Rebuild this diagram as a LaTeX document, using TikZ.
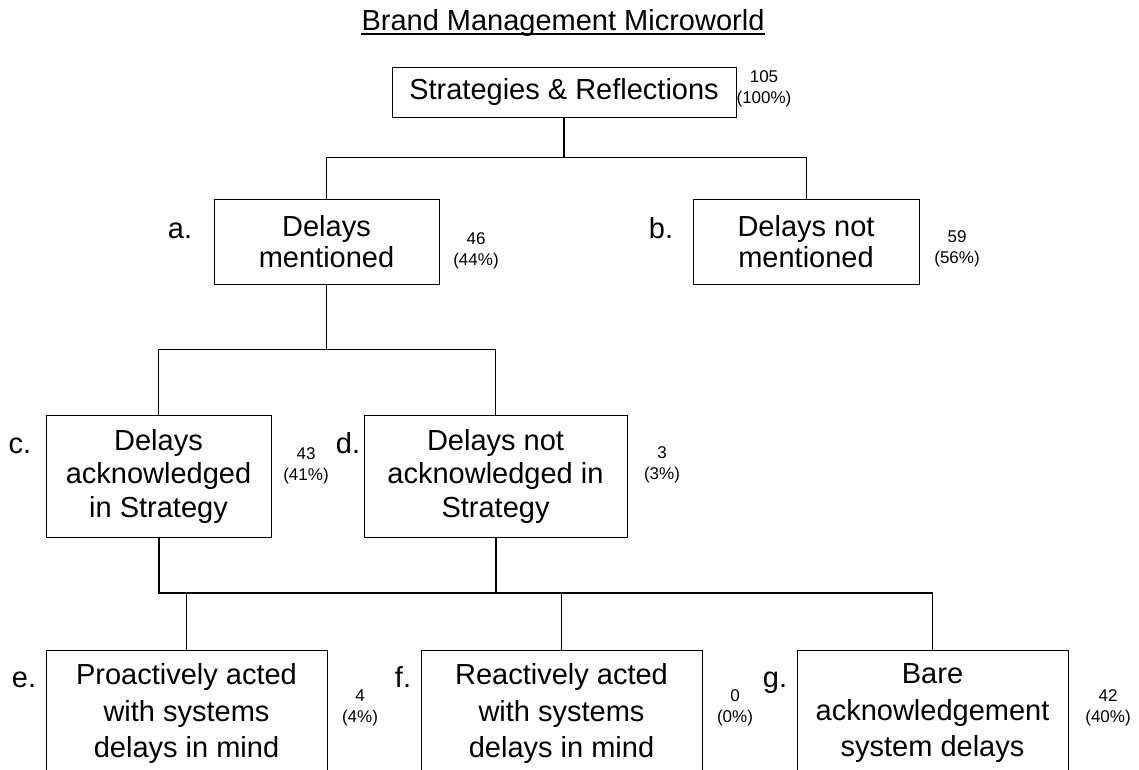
\documentclass[tikz,border=0pt]{standalone}
\usepackage{fontspec}
\setmainfont{Liberation Sans}
\begin{document}
\begin{tikzpicture}[x=1pt,y=-1pt,
  box/.style={draw, line width=1pt, inner sep=0pt, align=center},
  boxa/.style={box, font=\fontsize{29}{31}\selectfont},
  boxc/.style={box, font=\fontsize{29}{33.5}\selectfont},
  boxe/.style={box, font=\fontsize{29}{36.5}\selectfont},
  cnt/.style={align=center, inner sep=0pt, font=\fontsize{17}{21}\selectfont},
  lett/.style={inner sep=0pt, anchor=base, font=\fontsize{29}{33}\selectfont},
  conn/.style={line width=1pt},
  mid/.style={line width=1.5pt},
  bus/.style={line width=2pt}]
\useasboundingbox (0,0) rectangle (1139,769);
\clip (0,0) rectangle (1139,769);
% title
\node[anchor=base, inner sep=0pt, font=\fontsize{29}{33}\selectfont] (title) at (563,30) {Brand Management Microworld};
\draw[line width=1.2pt] ([yshift=-4pt]title.base west) -- ([yshift=-4pt]title.base east);
% boxes
\node[boxa, minimum width=344, minimum height=50] (S) at (564,92) {Strategies \& Reflections};
\node[boxa, minimum width=225, minimum height=85] (a) at (326.5,241.5) {Delays\\mentioned};
\node[boxa, minimum width=226, minimum height=85] (b) at (806,241.5) {Delays not\\mentioned};
\node[boxc, minimum width=225, minimum height=122] (c) at (158.5,476) {Delays\\acknowledged\\in Strategy};
\node[boxc, minimum width=263, minimum height=122] (d) at (495.5,476) {Delays not\\acknowledged in\\Strategy};
\node[boxe, minimum width=281, minimum height=127] (e) at (186.5,713.5) {Proactively acted\\with systems\\delays in mind};
\node[boxe, minimum width=281, minimum height=127] (f) at (561.5,713.5) {Reactively acted\\with systems\\delays in mind};
\node[boxe, minimum width=271, minimum height=127] (g) at (932.5,713.5) {Bare\\acknowledgement\\system delays};
% letters
\node[lett] (la) at (180,238) {a.};
\node[lett] (lb) at (661,238) {b.};
\node[lett] (lc) at (20,453) {c.};
\node[lett] (ld) at (348,453) {d.};
\node[lett] (le) at (24,687) {e.};
\node[lett] (lf) at (403,687) {f.};
\node[lett] (lg) at (775,687) {g.};
% counts
\node[cnt] (n0) at (764,89) {105\\(100\%)};
\node[cnt] (na) at (476,251) {46\\(44\%)};
\node[cnt] (nb) at (957,249) {59\\(56\%)};
\node[cnt] (nc) at (306,466) {43\\(41\%)};
\node[cnt] (nd) at (662,465) {3\\(3\%)};
\node[cnt] (ne) at (360,708) {4\\(4\%)};
\node[cnt] (nf) at (735,708) {0\\(0\%)};
\node[cnt] (ng) at (1108,708) {42\\(40\%)};
% connectors
\draw[mid] (S.south) -- ++(0,40) coordinate (t1);
\draw[conn] (a.north) |- (t1) -| (b.north);
\draw[conn] (a.south) -- ++(0,65) coordinate (t2);
\draw[conn] (c.north) |- (t2) -| (d.north);
\draw[bus] (c.south) -- ++(0,55) coordinate (t3) -- (t3 -| g.north);
\draw[bus] (d.south) -- (d.south |- t3);
\draw[mid] (e.north) -- (e.north |- t3);
\draw[mid] (f.north) -- (f.north |- t3);
\draw[mid] (g.north) -- (g.north |- t3);
\end{tikzpicture}
\end{document}
